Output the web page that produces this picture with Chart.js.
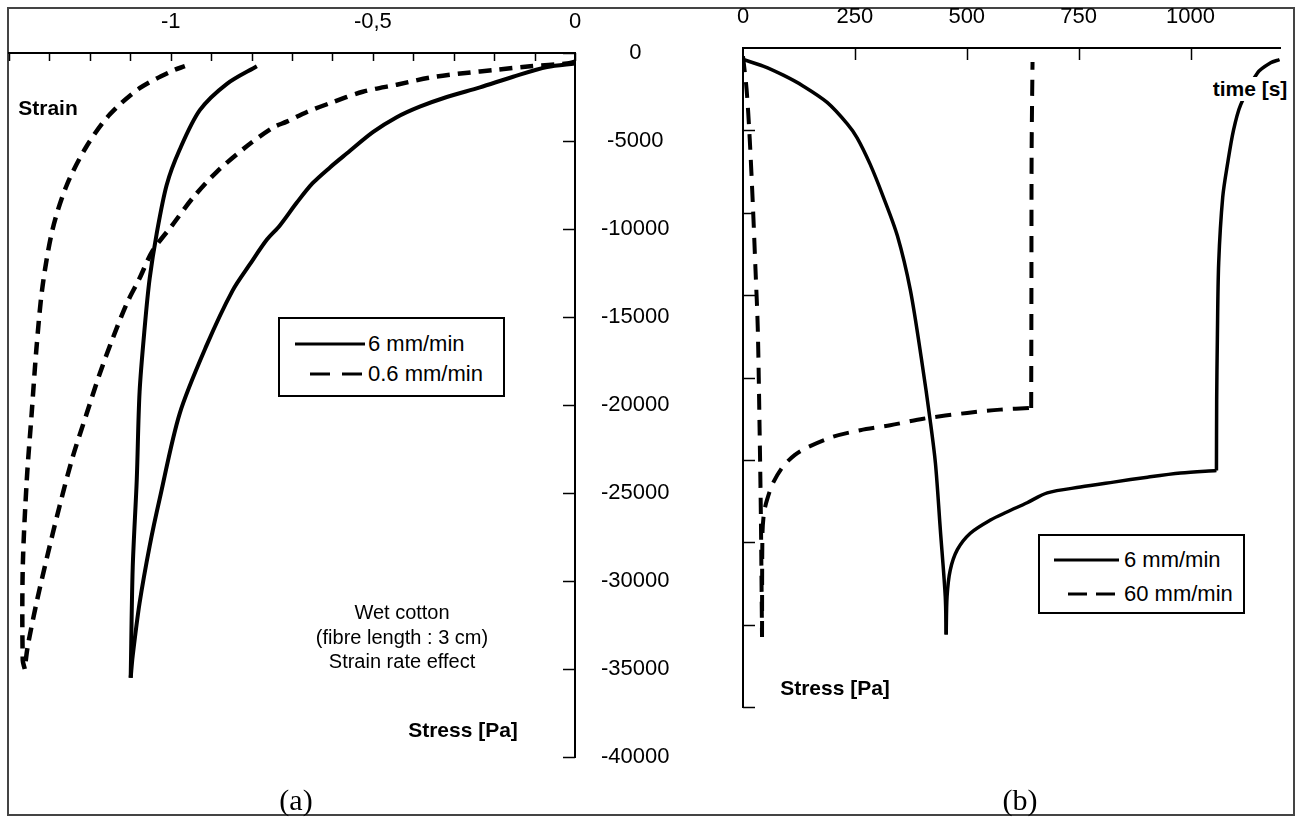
<!DOCTYPE html>
<html>
<head>
<meta charset="utf-8">
<script src="https://cdn.jsdelivr.net/npm/chart.js@4.4.0/dist/chart.umd.min.js"></script>
<style>
  html, body { margin: 0; padding: 0; background: #fff; }
  #page { position: relative; width: 1300px; height: 817px; overflow: hidden;
          font-family: 'Liberation Sans', Arial, sans-serif; color: #000; }
  canvas { position: absolute; left: 0; top: 0; }
  .frame { position: absolute; left: 7px; top: 7px; width: 1288px; height: 809px;
           border: 2px solid #444; box-sizing: border-box; }
  .lbl { position: absolute; white-space: nowrap; transform: translate(-50%, -50%); }
  .bold { font-weight: bold; font-size: 21px; }
  .note { font-size: 20px; }
  .panel { font-family: 'Liberation Serif', 'Times New Roman', serif; font-size: 30px; }
  .legend { position: absolute; border: 2px solid #000; background: #fff; box-sizing: border-box; font-size: 22px; }
  .legend svg { position: absolute; left: 0; top: 0; }
  .legend span { position: absolute; white-space: nowrap; transform: translateY(-50%); }
</style>
</head>
<body>
<div id="page">
  <div class="frame"></div>
  <canvas id="chartA" width="1300" height="817"></canvas>
  <canvas id="chartB" width="1300" height="817"></canvas>

  <div class="lbl bold" style="left:48px; top:108px;">Strain</div>
  <div class="lbl bold" style="left:463px; top:730px;">Stress [Pa]</div>
  <div class="lbl bold" style="left:835px; top:688px;">Stress [Pa]</div>
  <div class="lbl bold" style="left:1250px; top:89px; background:#fff;">time [s]</div>

  <div class="lbl note" style="left:402px; top:612px;">Wet cotton</div>
  <div class="lbl note" style="left:402px; top:637px;">(fibre length : 3 cm)</div>
  <div class="lbl note" style="left:402px; top:661px;">Strain rate effect</div>

  <div class="lbl panel" style="left:296px; top:800px;">(a)</div>
  <div class="lbl panel" style="left:1020px; top:800px;">(b)</div>

  <div class="legend" style="left:278px; top:317px; width:227px; height:80px;">
    <svg width="227" height="80">
      <line x1="15" y1="25" x2="85" y2="25" stroke="#000" stroke-width="3"/>
      <line x1="30" y1="55" x2="82" y2="55" stroke="#000" stroke-width="3" stroke-dasharray="20,12"/>
    </svg>
    <span style="left:88px; top:25px;">6 mm/min</span>
    <span style="left:88px; top:55px;">0.6 mm/min</span>
  </div>

  <div class="legend" style="left:1038px; top:534px; width:207px; height:80px;">
    <svg width="207" height="80">
      <line x1="14" y1="24" x2="79" y2="24" stroke="#000" stroke-width="3"/>
      <line x1="28" y1="58" x2="75" y2="58" stroke="#000" stroke-width="3" stroke-dasharray="19,9"/>
    </svg>
    <span style="left:84px; top:24px;">6 mm/min</span>
    <span style="left:84px; top:58px;">60 mm/min</span>
  </div>
</div>

<script>
// (a) stress vs strain, loading then unloading
const aStrain6 = [0, -0.069, -0.153, -0.235, -0.317, -0.384, -0.441, -0.5, -0.564, -0.606, -0.649, -0.688, -0.73,
  -0.762, -0.804, -0.847, -0.911, -0.978, -1.027, -1.052, -1.077, -1.094, -1.099,
  -1.094, -1.084, -1.077, -1.064, -1.052, -1.035, -1.01, -0.978, -0.928, -0.861, -0.787];
const aStress6 = [-600, -800, -1350, -1950, -2500, -3050, -3650, -4500, -5700, -6500, -7400, -8500, -9800,
  -10600, -12000, -13500, -16600, -20500, -25300, -28000, -31250, -34250, -35500,
  -29250, -24250, -19250, -15500, -12800, -10300, -7500, -5500, -3250, -1750, -750];

const aStrain06 = [0, -0.02, -0.111, -0.193, -0.277, -0.359, -0.441, -0.525, -0.606, -0.663, -0.713, -0.748, -0.812,
  -0.886, -0.946, -0.995, -1.045, -1.077, -1.109, -1.144, -1.176, -1.208, -1.243, -1.275, -1.307, -1.332, -1.354, -1.361,
  -1.366, -1.366, -1.356, -1.344, -1.332, -1.317, -1.292, -1.257, -1.208, -1.151, -1.077, -0.995, -0.965];
const aStress06 = [-500, -600, -750, -950, -1150, -1400, -1800, -2200, -2850, -3350, -3900, -4250, -5300,
  -6750, -8250, -9750, -11250, -12800, -14250, -16250, -18250, -20500, -23000, -25750, -28750, -31250, -33750, -35000,
  -34500, -29250, -24250, -20500, -16750, -13250, -10000, -7500, -5300, -3500, -2000, -1000, -750];

// (b) stress vs time
const bTime6 = [0, 45, 90, 134, 188, 233, 255, 284, 313, 345, 374, 400, 418, 430, 441, 452, 454,
  456, 463, 479, 508, 553, 591, 635, 680, 754, 828, 904, 978, 1058,
  1058.5, 1060, 1063, 1072, 1083, 1096, 1112, 1150, 1179, 1199];
const bStress6 = [-700, -1100, -1650, -2300, -3300, -4600, -5450, -7050, -9000, -11400, -14700, -19100, -22550, -25200, -29250, -33300, -35600,
  -33300, -31700, -30450, -29450, -28650, -28150, -27600, -27000, -26650, -26350, -26050, -25800, -25650,
  -21350, -17700, -13050, -9050, -7000, -5000, -3450, -1500, -900, -700];

const bTime60 = [0, 8, 15, 22, 28, 33, 37, 40, 42.5,
  43.5, 47, 54, 67, 89.5, 116, 143, 201, 262, 329, 403, 501, 575, 644,
  644.5, 645, 647];
const bStress60 = [-500, -2500, -5500, -9500, -13500, -17000, -23000, -28500, -35750,
  -29500, -28200, -27400, -26400, -25400, -24700, -24250, -23600, -23200, -22900, -22500, -22150, -21950, -21850,
  -15300, -6200, -850];

// index where each curve turns (load -> hold/unload), so smoothing keeps sharp tips
const aTurn6 = [22];
const aTurn06 = [27];
const bTurn6 = [16, 29];
const bTurn60 = [8, 22];

// axes
const strainTicks = [-1.4, -1.3, -1.2, -1.1, -1, -0.9, -0.8, -0.7, -0.6, -0.5, -0.4, -0.3, -0.2, -0.1, 0];
const strainLabelValues = [-1, -0.5, 0];
const strainLabelText = ['-1', '-0,5', '0'];
const stressTicks = [0, -5000, -10000, -15000, -20000, -25000, -30000, -35000, -40000];
const timeTicks = [0, 250, 500, 750, 1000];

Chart.defaults.font.family = "'Liberation Sans', Arial, sans-serif";
Chart.defaults.font.size = 22;
Chart.defaults.color = '#000';

function pts(xs, ys) {
  return xs.map((x, i) => ({ x: x, y: ys[i] }));
}

function pieces(xs, ys, cuts) {
  const out = [];
  let s = 0;
  cuts.concat([xs.length - 1]).forEach(c => {
    out.push(pts(xs.slice(s, c + 1), ys.slice(s, c + 1)));
    s = c;
  });
  return out;
}

function curve(xs, ys, cuts, style) {
  return pieces(xs, ys, cuts).map(d => Object.assign({
    data: d, borderColor: '#000', pointRadius: 0, tension: 0.3, fill: false
  }, style));
}

function setTicks(values) {
  return s => { s.ticks = values.map(v => ({ value: v })); };
}

// ticks drawn inside the plot, like the original figure
const innerTicks = {
  id: 'innerTicks',
  afterDraw(chart, args, opts) {
    const ctx = chart.ctx;
    ctx.save();
    ctx.strokeStyle = '#000';
    ctx.lineWidth = 1.5;
    opts.axes.forEach(a => {
      const sc = chart.scales[a.id];
      sc.ticks.forEach(t => {
        if (a.skipZero && t.value === 0) return;
        const p = Math.round(sc.getPixelForValue(t.value)) + 0.5;
        ctx.beginPath();
        if (sc.isHorizontal()) {
          ctx.moveTo(p, sc.bottom);
          ctx.lineTo(p, sc.bottom + a.len);
        } else if (sc.position === 'right') {
          ctx.moveTo(sc.left, p);
          ctx.lineTo(sc.left - a.len, p);
        } else {
          ctx.moveTo(sc.right, p);
          ctx.lineTo(sc.right + a.len, p);
        }
        ctx.stroke();
      });
    });
    ctx.restore();
  }
};

new Chart(document.getElementById('chartA'), {
  type: 'line',
  data: {
    datasets: [].concat(
      curve(aStrain6, aStress6, aTurn6, { label: '6 mm/min', borderWidth: 4 }),
      curve(aStrain06, aStress06, aTurn06, { label: '0.6 mm/min', borderWidth: 4.5, borderDash: [13, 8] })
    )
  },
  options: {
    responsive: false,
    animation: false,
    layout: { padding: { left: 9, top: 0, right: 600, bottom: 60 } },
    plugins: {
      legend: { display: false },
      tooltip: { enabled: false },
      innerTicks: { axes: [{ id: 'x', len: 8 }, { id: 'y', len: 12 }] }
    },
    scales: {
      x: {
        type: 'linear', position: 'top', min: -1.4, max: 0,
        grid: { display: false, drawTicks: false },
        border: { color: '#000', width: 2 },
        afterBuildTicks: setTicks(strainTicks),
        ticks: {
          autoSkip: false, maxRotation: 0, padding: 18,
          callback: v => {
            const i = strainLabelValues.findIndex(s => Math.abs(s - v) < 1e-6);
            return i >= 0 ? strainLabelText[i] : '';
          }
        },
        afterFit: s => { s.height = 53; s.paddingLeft = 0; s.paddingRight = 0; }
      },
      y: {
        type: 'linear', position: 'right', min: -40000, max: 0,
        grid: { display: false, drawTicks: false },
        border: { color: '#000', width: 2 },
        afterBuildTicks: setTicks(stressTicks),
        ticks: { autoSkip: false, padding: 26, crossAlign: 'center', callback: v => String(v) },
        afterFit: s => { s.width = 125; s.paddingTop = 0; s.paddingBottom = 0; }
      }
    }
  },
  plugins: [innerTicks]
});

new Chart(document.getElementById('chartB'), {
  type: 'line',
  data: {
    datasets: [].concat(
      curve(bTime6, bStress6, bTurn6, { label: '6 mm/min', borderWidth: 3.5 }),
      curve(bTime60, bStress60, bTurn60, { label: '60 mm/min', borderWidth: 4, borderDash: [16, 10] })
    )
  },
  options: {
    responsive: false,
    animation: false,
    layout: { padding: { left: 743, top: 0, right: 20, bottom: 110 } },
    plugins: {
      legend: { display: false },
      tooltip: { enabled: false },
      innerTicks: { axes: [{ id: 'x', len: 12, skipZero: true }, { id: 'y', len: 12, skipZero: true }] }
    },
    scales: {
      x: {
        type: 'linear', position: 'top', min: 0, max: 1200,
        grid: { display: false, drawTicks: false },
        border: { color: '#000', width: 2 },
        afterBuildTicks: setTicks(timeTicks),
        ticks: { autoSkip: false, maxRotation: 0, padding: 18, callback: v => String(v) },
        afterFit: s => { s.height = 48; s.paddingLeft = 0; s.paddingRight = 0; }
      },
      y: {
        type: 'linear', position: 'left', min: -40000, max: 0,
        grid: { display: false, drawTicks: false },
        border: { color: '#000', width: 2 },
        afterBuildTicks: setTicks(stressTicks),
        ticks: { display: false },
        afterFit: s => { s.width = 0; s.paddingTop = 0; s.paddingBottom = 0; }
      }
    }
  },
  plugins: [innerTicks]
});
</script>
</body>
</html>
